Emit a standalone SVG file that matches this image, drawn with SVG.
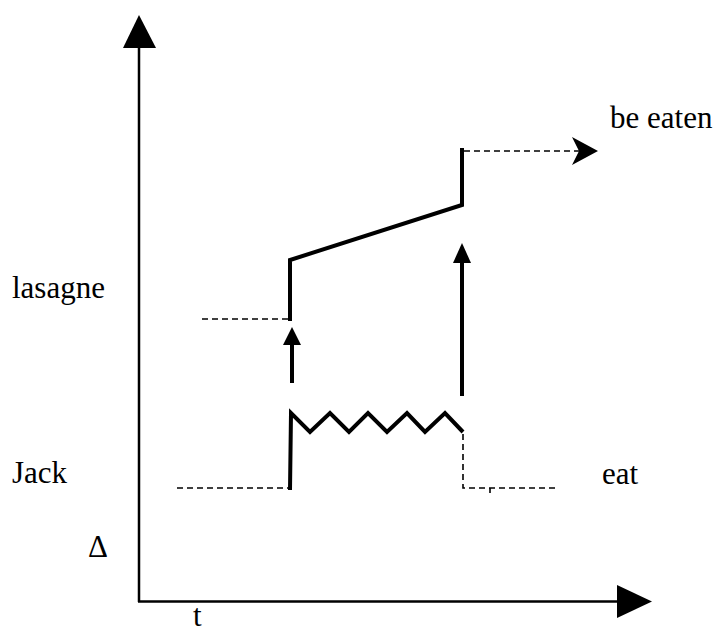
<svg xmlns="http://www.w3.org/2000/svg" width="717" height="632" viewBox="0 0 717 632">
<style>
text{font-family:'Liberation Serif','DejaVu Serif',serif;font-size:31px;fill:#000}
.axis{stroke:#000;stroke-width:2.5;fill:none}
.thick{stroke:#000;stroke-width:4;fill:none;stroke-linejoin:miter}
.dash{stroke:#000;stroke-width:1.6;fill:none;stroke-dasharray:6 4}
.head{fill:#000;stroke:none}
</style>
<rect width="717" height="632" fill="#fff"/>
<g id="axes">
<line class="axis" x1="139" y1="46" x2="139" y2="602"/>
<polygon class="head" points="139,15 156,48 123,48"/>
<line class="axis" x1="138" y1="601.5" x2="620" y2="601.5"/>
<polygon class="head" points="652,601.5 617,585 617,618"/>
</g>
<g id="labels" font-family="Liberation Serif, serif" font-size="31">
<text x="12" y="298">lasagne</text>
<text x="12" y="483">Jack</text>
<text x="88" y="557">Δ</text>
<text x="193" y="626">t</text>
<text x="602" y="484">eat</text>
<text x="610" y="128">be eaten</text>
</g>
<g id="lasagne-trace">
<line class="dash" x1="202" y1="319" x2="290" y2="319"/>
<polyline class="thick" points="290,321 290,260 462,205 462,148"/>
<line class="dash" x1="464" y1="151" x2="580" y2="151"/>
<polygon class="head" points="598,151 572,137 579,151 572,165"/>
</g>
<g id="jack-trace">
<line class="dash" x1="177" y1="488" x2="288" y2="488"/>
<polyline class="thick" points="290,490 291,413 310,432 330,413 349,432 368,413 387,432 407,413 425,432 445,413 463,432"/>
<polyline class="dash" points="463,434 463,488 557,488"/>
<line stroke="#000" stroke-width="1.6" x1="490" y1="488" x2="490" y2="493"/>
</g>
<g id="connectors">
<line class="thick" x1="292" y1="383" x2="292" y2="343"/>
<polygon class="head" points="292,327 301,345 283,345"/>
<line class="thick" x1="462" y1="396" x2="462" y2="261"/>
<polygon class="head" points="462,243 471,263 453,263"/>
</g>
</svg>
